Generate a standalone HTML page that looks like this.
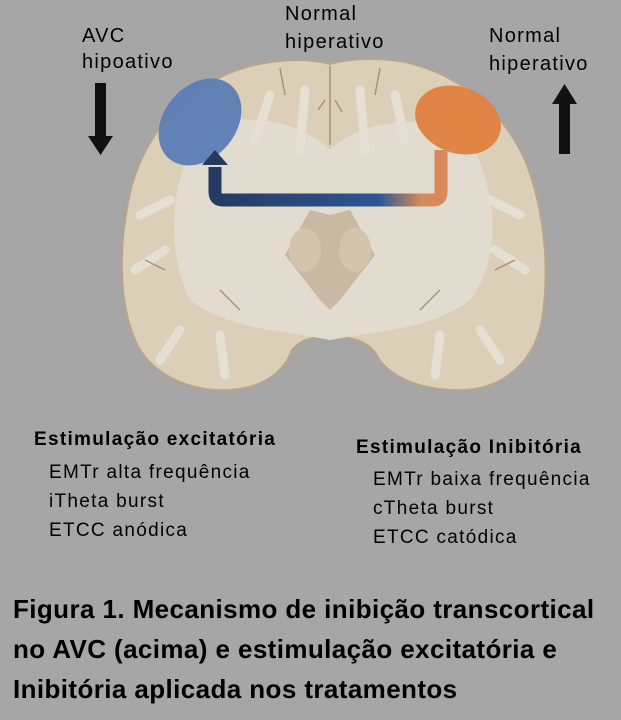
<!DOCTYPE html>
<html><head><style>
body{margin:0;width:621px;height:720px;background:#a6a6a6;overflow:hidden;font-family:"Liberation Sans",sans-serif;position:relative}
.t{position:absolute;color:#000;white-space:nowrap;letter-spacing:1.3px}
</style></head><body>
<svg width="621" height="720" style="position:absolute;left:0;top:0">
<defs>
<linearGradient id="g" x1="208" x2="445" y1="0" y2="0" gradientUnits="userSpaceOnUse">
<stop offset="0" stop-color="#243a5e"/><stop offset="0.72" stop-color="#2d5594"/><stop offset="0.9" stop-color="#d48a5a"/><stop offset="1" stop-color="#d9895a"/>
</linearGradient>
</defs>
<path d="M330,64 C300,56 250,60 215,80 C175,100 145,140 132,185 C118,240 118,300 135,340 C150,375 190,392 230,390 C265,388 285,370 292,350 C300,340 315,335 330,338 C345,335 365,340 375,352 C385,375 420,392 465,390 C505,388 535,360 542,320 C550,270 545,210 525,160 C505,115 465,80 420,66 C390,56 350,58 330,64 Z" fill="#dccfb8" stroke="#b8a58e" stroke-width="2"/>
<path d="M200,130 C240,110 300,120 330,150 C360,120 430,110 470,140 C500,200 500,260 470,300 C430,330 380,330 330,340 C280,330 230,330 190,300 C165,250 170,180 200,130 Z" fill="#e2dcd0"/>
<g fill="none" stroke="#e6e0d4" stroke-width="9" stroke-linecap="round">
<path d="M255,140 L270,95 M300,150 L305,90 M365,150 L360,90 M405,140 L395,95 M170,200 L140,215 M165,250 L135,270 M180,330 L160,360 M220,335 L225,375 M490,200 L520,215 M495,250 L525,270 M480,330 L500,360 M440,335 L435,375"/>
</g>
<g fill="none" stroke="#a8927a" stroke-width="1.5">
<path d="M330,66 L330,145 M325,100 L318,110 M335,100 L342,112 M280,68 L285,95 M380,68 L375,95 M145,260 L165,270 M515,260 L495,270 M220,290 L240,310 M440,290 L420,310"/>
</g>
<path d="M285,255 L310,210 L330,215 L350,210 L375,255 L340,300 L330,310 L320,300 Z" fill="#c9b9a2"/>
<ellipse cx="305" cy="250" rx="16" ry="22" fill="#d3c4ad"/>
<ellipse cx="355" cy="250" rx="16" ry="22" fill="#d3c4ad"/>
<ellipse cx="200" cy="122" rx="36" ry="48" transform="rotate(40 200 122)" fill="#5b7db5" opacity="0.95"/>
<ellipse cx="458" cy="120" rx="44" ry="33" transform="rotate(20 458 120)" fill="#e07f3f" opacity="0.95"/>
<path d="M215,167 L215,192 Q215,200 223,200 L433,200 Q441,200 441,192 L441,150" fill="none" stroke="url(#g)" stroke-width="13"/>
<polygon points="202,165 228,165 215,150" fill="#243a5e"/>
<rect x="95" y="83" width="11" height="55" fill="#111"/>
<polygon points="88,136 113,136 100.5,155" fill="#111"/>
<rect x="559" y="102" width="11" height="52" fill="#111"/>
<polygon points="552,104 577,104 564.5,84" fill="#111"/>
</svg>
<div class="t" style="left:82px;top:25px;font-size:20px">AVC</div>
<div class="t" style="left:82px;top:51px;font-size:20px">hipoativo</div>
<div class="t" style="left:285px;top:3px;font-size:20px">Normal</div>
<div class="t" style="left:285px;top:31px;font-size:20px">hiperativo</div>
<div class="t" style="left:489px;top:25px;font-size:20px">Normal</div>
<div class="t" style="left:489px;top:53px;font-size:20px">hiperativo</div>
<div class="t" style="left:34px;top:429px;font-size:19px;font-weight:bold">Estimulação excitatória</div>
<div class="t" style="left:49px;top:458px;font-size:19px;line-height:29px">EMTr alta frequência<br>iTheta burst<br>ETCC anódica</div>
<div class="t" style="left:356px;top:437px;font-size:19px;font-weight:bold">Estimulação Inibitória</div>
<div class="t" style="left:373px;top:465px;font-size:19px;line-height:29px">EMTr baixa frequência<br>cTheta burst<br>ETCC catódica</div>
<div class="t" style="left:13px;top:589px;font-size:26px;font-weight:bold;line-height:40px;letter-spacing:0.4px">Figura 1. Mecanismo de inibição transcortical<br>no AVC (acima) e estimulação excitatória e<br>Inibitória aplicada nos tratamentos</div>
</body></html>
